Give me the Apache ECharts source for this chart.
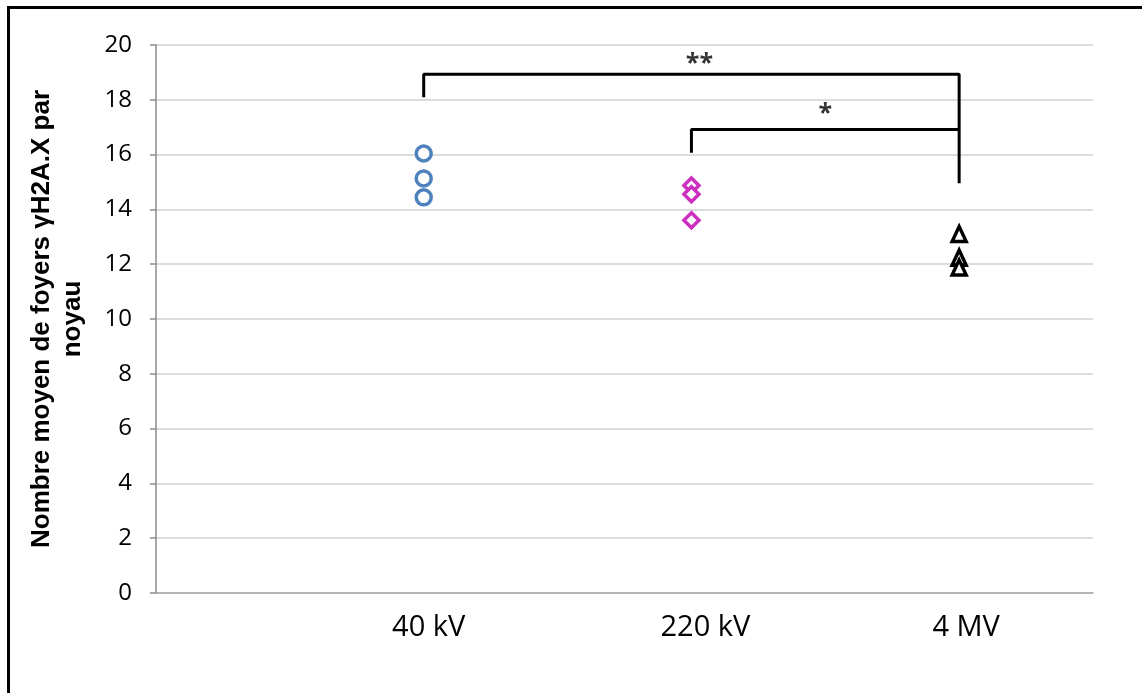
<!DOCTYPE html>
<html>
<head>
<meta charset="utf-8">
<script src="https://cdn.jsdelivr.net/npm/echarts@6/dist/echarts.min.js"></script>
<style>
html,body{margin:0;padding:0;background:#fff;}
#c{width:1142px;height:693px;}
</style>
</head>
<body>
<div id="c"></div>
<script>
// Data
const categories = ['40 kV', '220 kV', '4 MV'];
const catPositions = [1, 2, 3];
const values40kV = [16.04, 15.13, 14.44];
const values220kV = [14.87, 14.55, 13.6];
const values4MV = [13.1, 12.24, 11.88];
const yTicks = [0, 2, 4, 6, 8, 10, 12, 14, 16, 18, 20];
// Significance brackets: [x, y] in data units
const bracket2 = [[1, 18.09], [1, 18.93], [3, 18.93], [3, 14.95]];
const bracket1 = [[2, 16.07], [2, 16.92], [3, 16.92]];
const sigLabels = [{text: '**', x: 2.03, y: 19.3}, {text: '*', x: 2.5, y: 17.5}];

const FONT = "'Open Sans', 'Liberation Sans', sans-serif";
const chart = echarts.init(document.getElementById('c'), null, {renderer: 'canvas'});

function pts(x, arr) { return arr.map(v => [x, v]); }
const richKeys = ['a', 'b', 'c'];
const labelShift = [10, 28, 14]; // left padding (px) nudging category labels
const rich = {};
richKeys.forEach((k, i) => {
  rich[k] = {fontSize: 29, fontFamily: FONT, color: '#000', padding: [0, 0, 0, labelShift[i]], lineHeight: 30};
});

const option = {
  animation: false,
  backgroundColor: '#fff',
  grid: {left: 156, right: 49, top: 45, bottom: 100, containLabel: false},
  xAxis: {
    type: 'value', min: 0, max: 3.5, interval: 0.5,
    axisLine: {show: true, lineStyle: {color: '#a6a6a6', width: 1.5}},
    axisTick: {show: false},
    splitLine: {show: false},
    axisLabel: {
      show: true, margin: 20, color: '#000', fontSize: 29, fontFamily: FONT, rich: rich,
      formatter: function (v) {
        const i = catPositions.indexOf(v);
        return i >= 0 ? '{' + richKeys[i] + '|' + categories[i] + '}' : '';
      }
    }
  },
  yAxis: {
    type: 'value', min: 0, max: 20, interval: 2,
    name: 'Nombre moyen de foyers γH2A.X par\nnoyau',
    nameLocation: 'middle', nameRotate: 90, nameGap: 68,
    nameTextStyle: {fontSize: 26, fontWeight: 'bold', color: '#000', fontFamily: "'Liberation Sans', Arial, sans-serif", lineHeight: 31, align: 'center'},
    axisLine: {show: true, lineStyle: {color: '#8c8c8c', width: 1.5}},
    axisTick: {show: true, length: 6, lineStyle: {color: '#8c8c8c', width: 1.5}},
    splitLine: {show: true, lineStyle: {color: '#d0d0d0', width: 1.5}},
    axisLabel: {color: '#000', fontSize: 24, fontFamily: FONT, margin: 24,
      formatter: v => yTicks.includes(v) ? String(v) : ''}
  },
  series: [
    {
      type: 'scatter', data: pts(catPositions[0], values40kV), symbol: 'circle', symbolSize: 15,
      itemStyle: {color: '#fff', borderColor: '#4F81BD', borderWidth: 3.5, opacity: 1}, z: 5
    },
    {
      type: 'scatter', data: pts(catPositions[1], values220kV), symbol: 'diamond', symbolSize: 15,
      itemStyle: {color: '#fff', borderColor: '#CC2EC0', borderWidth: 3.5, opacity: 1}, z: 5
    },
    {
      type: 'scatter', data: pts(catPositions[2], values4MV), symbol: 'triangle', symbolSize: [14, 15],
      itemStyle: {color: '#fff', borderColor: '#000', borderWidth: 3.5, opacity: 1}, z: 5
    },
    {
      type: 'line', data: bracket2, symbol: 'none', lineStyle: {color: '#000', width: 3}, z: 4
    },
    {
      type: 'line', data: bracket1, symbol: 'none', lineStyle: {color: '#000', width: 3}, z: 4
    },
    {
      type: 'scatter', symbolSize: 0,
      data: sigLabels.map(s => ({value: [s.x, s.y], name: s.text})),
      label: {show: true, position: 'inside', formatter: p => p.name, color: '#000', fontSize: 25, fontWeight: 'bold', fontFamily: FONT},
      z: 6
    }
  ],
  graphic: [
    {type: 'rect', left: 6, top: 5, shape: {width: 1300, height: 900},
      style: {fill: 'none', stroke: '#000', lineWidth: 3}, silent: true}
  ]
};
chart.setOption(option);
</script>
</body>
</html>
